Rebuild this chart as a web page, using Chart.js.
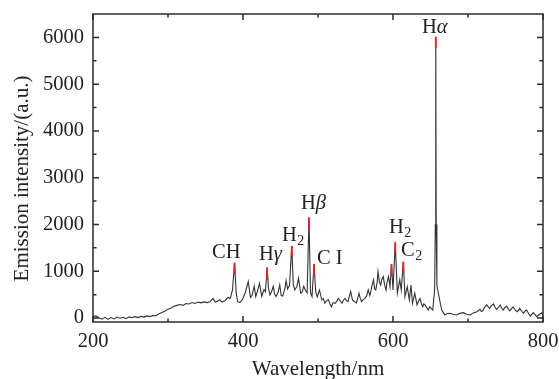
<!DOCTYPE html>
<html>
<head>
<meta charset="utf-8">
<script src="https://cdn.jsdelivr.net/npm/chart.js@4.4.1/dist/chart.umd.min.js"></script>
<style>
  body { margin: 0; background: #fff; }
</style>
</head>
<body>
<canvas id="spectrum" width="559" height="379"></canvas>
<script>
// emission spectrum
const wavelength = [
  200, 204, 208, 212, 216, 220, 224, 228, 232, 236, 240, 244, 248, 252, 256, 260, 264, 268, 272, 276,
  280, 284, 288, 292, 296, 300, 304, 308, 312, 316, 320, 324, 328, 332, 336, 340, 344, 348, 352, 356,
  360, 363, 366, 369, 372, 376, 380, 383, 386, 388.7, 391, 393, 396, 399, 403, 407, 410, 412, 415, 417,
  419, 422, 425, 428, 430, 432.2, 434, 436, 438, 440.4, 442, 444, 447, 449, 451, 453, 456, 457.5, 459.5, 462,
  465, 467, 469, 472, 474, 477, 479, 481, 483, 485.5, 488, 490, 492, 494.7, 497, 499, 502, 505, 507, 509,
  512, 514, 516, 518, 520, 523, 525, 527, 530, 532, 534, 536, 538, 540, 542, 543.6, 546, 548, 551, 553,
  554.7, 556, 558, 560, 562.7, 565, 567, 569, 570, 572, 574, 575.5, 577, 579, 580, 582, 583.6, 585, 587, 589,
  590.7, 592, 594, 596, 598, 600, 603, 605.8, 607, 609, 611, 613.8, 616, 619, 621.8, 624, 626, 629, 632, 634,
  636, 638, 639.6, 641, 642.7, 645, 647, 649, 651, 653, 655.5, 656.4, 657, 657.6, 658.5, 661.8, 663.5, 665, 667, 669,
  672, 676, 680, 685, 689, 694, 698, 703, 707, 712, 716, 718, 720, 722, 725, 727, 729, 731, 734, 736,
  738, 741, 743, 745, 747, 749, 751.6, 754, 756, 758, 760, 763, 765.6, 768, 769, 772, 774, 776, 778, 781,
  783, 785, 787, 790, 791.6, 794, 796, 798, 800
];
const intensity = [
  30, 45, 5, -25, 15, -30, 10, -20, 20, -5, 15, -15, 25, 5, 30, 10, 35, 20, 45, 30,
  55, 50, 90, 120, 150, 190, 210, 250, 270, 290, 270, 310, 300, 330, 310, 340, 325, 345, 330, 350,
  420, 340, 360, 390, 340, 370, 440, 420, 600, 1180, 520, 350, 330, 390, 540, 780, 440, 480, 680, 460,
  560, 740, 460, 610, 560, 1080, 640, 490, 560, 680, 520, 460, 560, 710, 480, 470, 640, 800, 620, 700,
  1540, 720, 600, 680, 850, 530, 560, 680, 600, 540, 2150, 540, 460, 1157, 560, 450, 600, 390, 420, 320,
  380, 390, 300, 240, 330, 315, 360, 420, 360, 315, 380, 420, 370, 350, 480, 565, 380, 360, 320, 420,
  530, 440, 350, 390, 420, 480, 600, 480, 530, 700, 815, 620, 600, 780, 990, 760, 705, 820, 885, 700,
  600, 760, 885, 670, 1157, 600, 1620, 530, 640, 815, 600, 1205, 455, 670, 385, 705, 315, 530, 280, 360,
  420, 300, 240, 300, 280, 220, 170, 240, 200, 170, 600, 2000, 6015, 2000, 700, 420, 280, 170, 120, 65,
  90, 100, 80, 65, 100, 115, 80, 65, 110, 135, 185, 140, 160, 230, 280, 240, 205, 260, 300, 230,
  185, 240, 280, 210, 170, 220, 255, 190, 155, 200, 240, 170, 135, 180, 205, 140, 100, 150, 170, 90,
  40, 80, 115, 60, 30, 60, 85, 110, 60
];

// marked lines: red tip from base to peak
const lineCenter = [388.7, 432.2, 465, 488, 494.7, 598, 603, 613.8, 657];
const lineTop = [1180, 1080, 1540, 2150, 1157, 1157, 1620, 1205, 6015];
const lineBase = [930, 815, 1310, 1900, 900, 900, 1385, 970, 5780];

const xTicks = [200, 400, 600, 800];
const xMinorTicks = [300, 500, 700];
const yTicks = [0, 1000, 2000, 3000, 4000, 5000, 6000];
const yMinorTicks = [500, 1500, 2500, 3500, 4500, 5500];

// peak names: main text + greek letter or subscript
const peakName = ['CH', 'H', 'H', 'H', 'C I', 'H', 'C', 'H'];
const peakMark = ['', 'γ', '2', 'β', '', '2', '2', 'α'];

// where each name sits (data coords of text start / baseline)
const labelAnchors = [
  [358.7, 1283], [421.3, 1240], [452, 1647], [477.3, 2332],
  [498.7, 1155], [594.7, 1817], [610.7, 1326], [638.7, 6100]
];

const spectrum = wavelength.map((w, i) => ({ x: w, y: intensity[i] }));
const tips = [];
lineCenter.forEach((w, i) => {
  tips.push({ x: w, y: lineBase[i] }, { x: w, y: lineTop[i] }, { x: w, y: null });
});

const serif = '"Liberation Serif", "Times New Roman", serif';
const ink = '#222';

const framePlugin = {
  id: 'frame',
  afterDatasetsDraw(chart) {
    const { ctx, chartArea: a, scales: { x, y } } = chart;
    ctx.save();
    ctx.strokeStyle = '#2b2b2b';
    ctx.lineWidth = 1.5;
    ctx.strokeRect(a.left, a.top, a.right - a.left, a.bottom - a.top);
    ctx.beginPath();
    const xt = (v, len) => {
      const px = x.getPixelForValue(v);
      ctx.moveTo(px, a.bottom); ctx.lineTo(px, a.bottom - len);
      ctx.moveTo(px, a.top); ctx.lineTo(px, a.top + len);
    };
    const yt = (v, len) => {
      const py = y.getPixelForValue(v);
      ctx.moveTo(a.left, py); ctx.lineTo(a.left + len, py);
      ctx.moveTo(a.right, py); ctx.lineTo(a.right - len, py);
    };
    xTicks.forEach(v => xt(v, 6));
    xMinorTicks.forEach(v => xt(v, 3.5));
    yTicks.forEach(v => yt(v, 6));
    yMinorTicks.forEach(v => yt(v, 3.5));
    ctx.stroke();

    // peak names
    ctx.fillStyle = ink;
    ctx.textBaseline = 'alphabetic';
    ctx.textAlign = 'left';
    peakName.forEach((name, i) => {
      let px = x.getPixelForValue(labelAnchors[i][0]);
      const py = y.getPixelForValue(labelAnchors[i][1]);
      ctx.font = '20.5px ' + serif;
      ctx.fillText(name, px, py);
      px += ctx.measureText(name).width;
      const m = peakMark[i];
      if (!m) return;
      if (m === '2') {
        ctx.font = '14px ' + serif;
        ctx.fillText(m, px + 0.5, py + 4);
      } else {
        ctx.font = 'italic 20.5px ' + serif;
        ctx.fillText(m, px, py);
      }
    });
    ctx.restore();
  }
};

const noOverflow = s => { s.paddingTop = 0; s.paddingBottom = 0; s.paddingLeft = 0; s.paddingRight = 0; };

new Chart(document.getElementById('spectrum').getContext('2d'), {
  type: 'line',
  data: {
    datasets: [
      {
        data: spectrum,
        borderColor: '#333',
        borderWidth: 1.1,
        pointRadius: 0,
        tension: 0,
        order: 2
      },
      {
        data: tips,
        borderColor: '#ee1c25',
        borderWidth: 1.8,
        pointRadius: 0,
        spanGaps: false,
        order: 1
      }
    ]
  },
  options: {
    responsive: false,
    animation: false,
    layout: { padding: { top: 14, right: 16, left: 0, bottom: 0 } },
    plugins: { legend: { display: false }, tooltip: { enabled: false } },
    scales: {
      x: {
        type: 'linear',
        min: 200,
        max: 800,
        afterFit: s => { s.height = 57; noOverflow(s); },
        afterBuildTicks: s => { s.ticks = xTicks.map(v => ({ value: v })); },
        grid: { display: false, drawTicks: false },
        border: { display: false },
        ticks: { color: ink, padding: 7, maxRotation: 0, callback: v => String(v), font: { family: serif, size: 20.5 } },
        title: { display: true, text: 'Wavelength/nm', color: ink, padding: { top: 0, bottom: -3 }, font: { family: serif, size: 21 } }
      },
      y: {
        min: -85,
        max: 6500,
        afterFit: s => { s.width = 93; noOverflow(s); },
        afterBuildTicks: s => { s.ticks = yTicks.map(v => ({ value: v })); },
        grid: { display: false, drawTicks: false },
        border: { display: false },
        ticks: { color: ink, padding: 9, callback: v => String(v), font: { family: serif, size: 20.5 } },
        title: { display: true, text: 'Emission intensity/(a.u.)    ', color: ink, padding: { top: 10, bottom: 0 }, font: { family: serif, size: 21 } }
      }
    }
  },
  plugins: [framePlugin]
});
</script>
</body>
</html>
